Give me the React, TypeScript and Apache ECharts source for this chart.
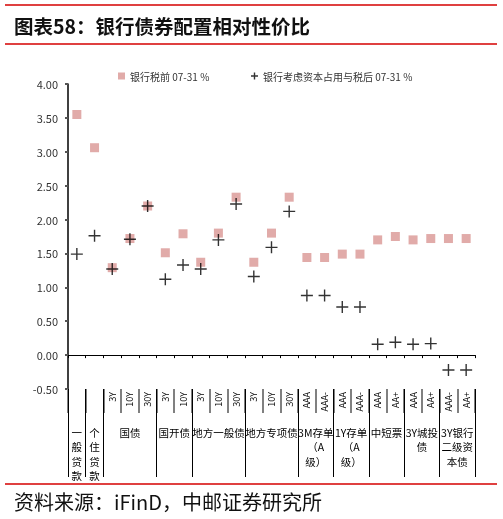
import React, { useEffect, useRef } from 'react';
import * as echarts from 'echarts';

const categories = ['一般贷款', '个住贷款', '国债3Y', '国债10Y', '国债30Y', '国开债3Y', '国开债10Y', '地方一般债3Y', '地方一般债10Y', '地方一般债30Y', '地方专项债3Y', '地方专项债10Y', '地方专项债30Y', '3M存单AAA', '3M存单AAA-', '1Y存单AAA', '1Y存单AAA-', '中短票AAA', '中短票AA+', '3Y城投债AAA', '3Y城投债AA+', '3Y银行二级资本债AAA-', '3Y银行二级资本债AA+'];
const subLabels = ['', '', '3Y', '10Y', '30Y', '3Y', '10Y', '3Y', '10Y', '30Y', '3Y', '10Y', '30Y', 'AAA', 'AAA-', 'AAA', 'AAA-', 'AAA', 'AA+', 'AAA', 'AA+', 'AAA-', 'AA+'];
const groupLabels = ['一\n般\n贷\n款', '个\n住\n贷\n款', '国债', '国开债', '地方一般债', '地方专项债', '3M存单\n（A\n级）', '1Y存单\n（A\n级）', '中短票', '3Y城投\n债', '3Y银行\n二级资\n本债'];
const groupSizes = [1, 1, 3, 2, 3, 3, 2, 2, 2, 2, 2];
const preTax = [3.55, 3.06, 1.29, 1.72, 2.20, 1.51, 1.79, 1.37, 1.80, 2.33, 1.37, 1.80, 2.33, 1.44, 1.44, 1.49, 1.49, 1.70, 1.75, 1.70, 1.72, 1.72, 1.72];
const afterTax = [1.49, 1.76, 1.27, 1.71, 2.20, 1.12, 1.33, 1.27, 1.70, 2.23, 1.16, 1.59, 2.12, 0.88, 0.88, 0.71, 0.71, 0.16, 0.19, 0.16, 0.17, -0.22, -0.22];
const seriesNames = ['银行税前 07-31 %', '银行考虑资本占用与税后 07-31 %'];
const titleText = '图表58：银行债券配置相对性价比';
const sourceText = '资料来源：iFinD，中邮证券研究所';

const FONT = '"Noto Sans CJK SC", "Noto Sans", sans-serif';
const PLUS = 'path://M5.3,0H6.7V5.3H12V6.7H6.7V12H5.3V6.7H0V5.3H5.3Z';
const PLUS_LEGEND = 'path://M4,0H6V4H10V6H6V10H4V6H0V4H4Z';

export default function App() {
  const ref = useRef<HTMLDivElement>(null);
  useEffect(() => {
    if (!ref.current) return;
    const chart = echarts.init(ref.current, undefined, { renderer: 'svg' });
    const bounds: number[] = [0];
    const centers: number[] = [];
    let acc = 0;
    groupSizes.forEach((s) => {
      centers.push(acc + s / 2);
      acc += s;
      bounds.push(acc);
    });
    const red = '#D40000';
    chart.setOption({
      animation: false,
      textStyle: { fontFamily: FONT },
      grid: { left: 68, right: 28, top: 84, bottom: 130, containLabel: false, outerBoundsMode: 'none' },
      legend: [
        {
          data: [{ name: seriesNames[0], icon: 'rect' }],
          left: 118, top: 71, padding: 0, itemWidth: 7, itemHeight: 7,
          textStyle: { fontSize: 10, color: '#333', fontFamily: FONT },
        },
        {
          data: [{ name: seriesNames[1], icon: PLUS_LEGEND }],
          left: 251, top: 71, padding: 0, itemWidth: 7, itemHeight: 7,
          textStyle: { fontSize: 10, color: '#333', fontFamily: FONT },
        },
      ],
      xAxis: [
        {
          type: 'category', data: categories,
          axisLine: { show: true, onZero: true, lineStyle: { color: '#000', width: 1 } },
          axisTick: { show: true, interval: 0, length: 3, lineStyle: { color: '#000' } },
          axisLabel: { show: false },
          splitLine: { show: false },
        },
        {
          type: 'category', data: categories, position: 'bottom',
          axisLine: { show: false, onZero: false },
          axisTick: { show: true, interval: 0, length: 24, lineStyle: { color: '#808080', width: 2 } },
          axisLabel: {
            interval: 0, rotate: 90, margin: 3, fontSize: 9, color: '#000',
            formatter: (_v: string, i: number) => subLabels[i],
          },
          splitLine: { show: false },
        },
        {
          type: 'value', min: 0, max: 23, position: 'bottom',
          axisLine: { show: false, onZero: false },
          splitLine: { show: false },
          axisTick: { show: true, customValues: bounds, length: 88, lineStyle: { color: '#000', width: 1 } },
          axisLabel: {
            customValues: centers, margin: 36, fontSize: 10.5, lineHeight: 14.5, color: '#000',
            verticalAlign: 'top', align: 'center',
            formatter: (v: number) => {
              const idx = centers.findIndex((c) => Math.abs(c - v) < 1e-6);
              return idx >= 0 ? groupLabels[idx] : '';
            },
          },
        },
      ],
      yAxis: {
        type: 'value', min: -0.5, max: 4, interval: 0.5,
        axisLine: { show: true, lineStyle: { color: '#000', width: 1.5 } },
        axisTick: { show: true, length: 3, lineStyle: { color: '#555', width: 2 } },
        axisLabel: { fontSize: 11, color: '#333', margin: 10, formatter: (v: number) => v.toFixed(2) },
        splitLine: { show: false },
      },
      series: [
        {
          name: seriesNames[0], type: 'scatter', xAxisIndex: 0, data: preTax,
          symbol: 'rect', symbolSize: 9, itemStyle: { color: '#D99694' },
        },
        {
          name: seriesNames[1], type: 'scatter', xAxisIndex: 0, data: afterTax,
          symbol: PLUS, symbolSize: 12, itemStyle: { color: '#000' }, z: 3,
        },
      ],
      graphic: [
        { type: 'line', shape: { x1: 5, y1: 5, x2: 497, y2: 5 }, style: { stroke: red, lineWidth: 1.5 } },
        { type: 'line', shape: { x1: 5, y1: 44, x2: 497, y2: 44 }, style: { stroke: red, lineWidth: 1.5 } },
        { type: 'line', shape: { x1: 5, y1: 484, x2: 497, y2: 484 }, style: { stroke: red, lineWidth: 1.5 } },
        {
          type: 'text', x: 14, y: 25,
          style: { text: titleText, fontSize: 19.5, fontWeight: 'bold', fill: '#111', fontFamily: FONT, verticalAlign: 'middle' },
        },
        {
          type: 'text', x: 14, y: 501,
          style: { text: sourceText, fontSize: 20, fill: '#111', fontFamily: FONT, verticalAlign: 'middle' },
        },
      ],
    });
    return () => chart.dispose();
  }, []);
  return <div ref={ref} style={{ position: 'fixed', left: 0, top: 0, width: 503, height: 519 }} />;
}
